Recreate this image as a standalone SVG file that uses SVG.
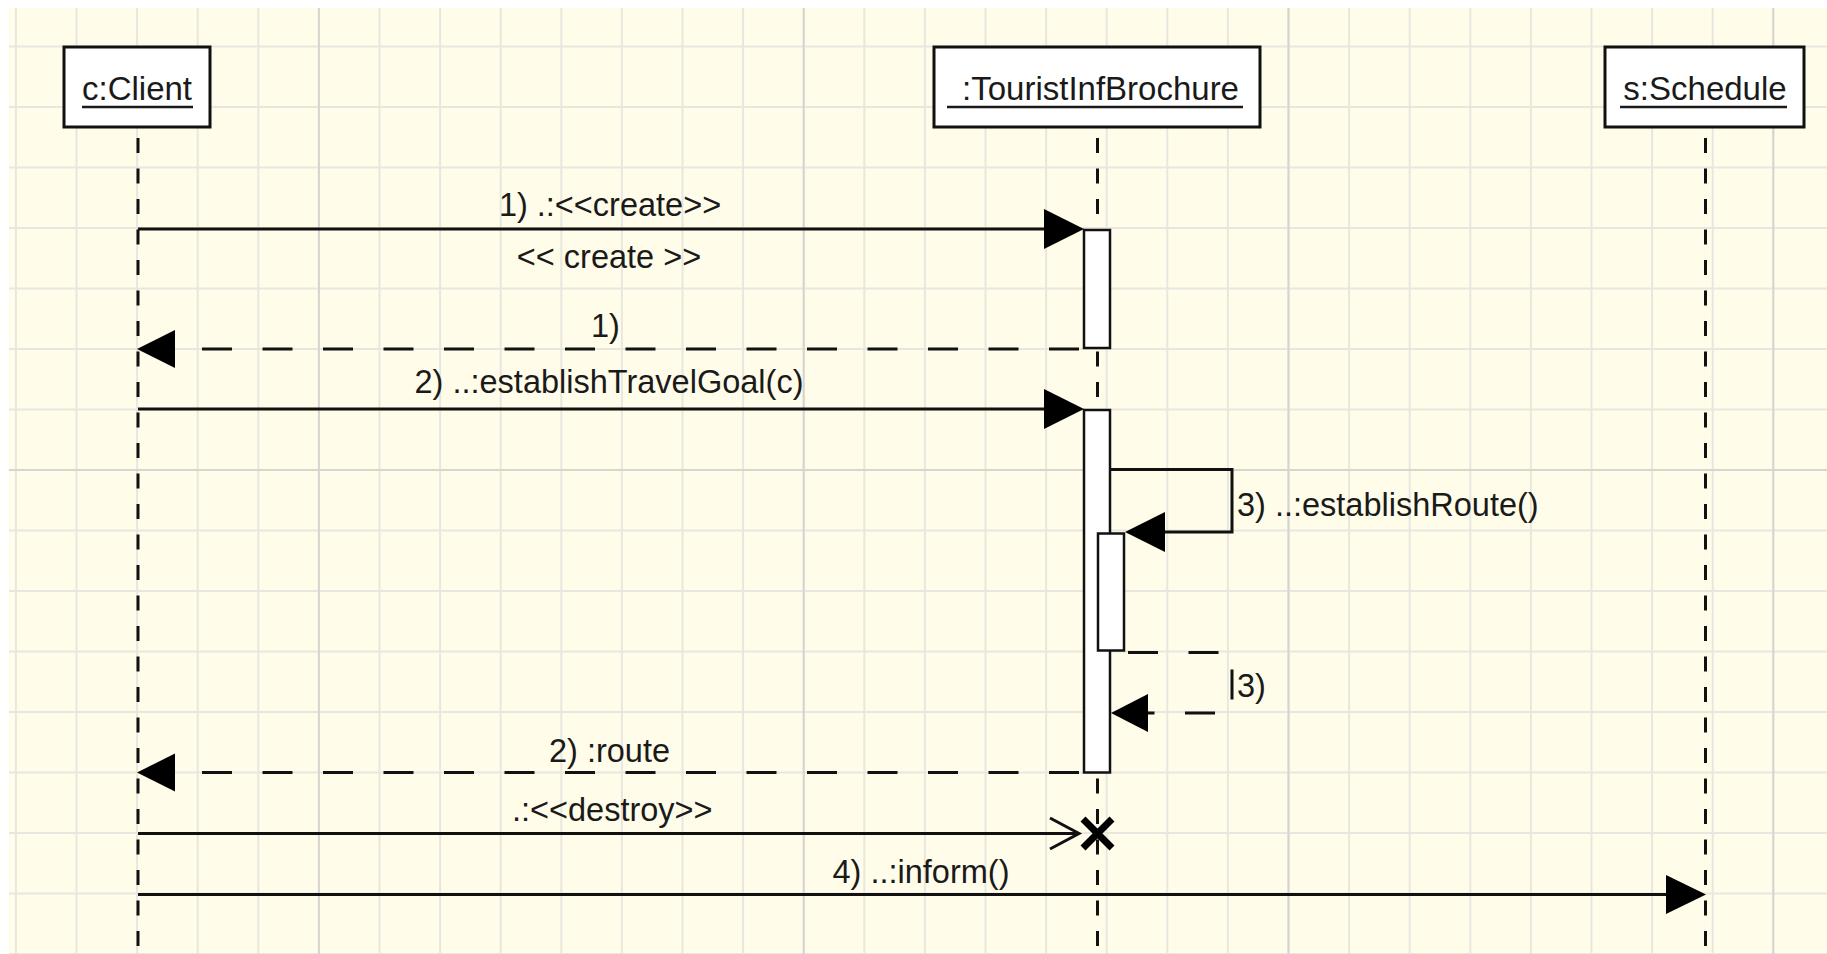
<svg xmlns="http://www.w3.org/2000/svg" width="1827" height="954" viewBox="0 0 1827 954">
<defs>
<style>
.box{fill:#fff;stroke:#111;stroke-width:3}
.name{font-family:"Liberation Sans",Arial,sans-serif;font-size:33px;fill:#1a1a1a;text-anchor:middle}
.ul{stroke:#1a1a1a;stroke-width:2.5}
.life{stroke:#111;stroke-width:3;stroke-dasharray:15 15.5;fill:none}
.act{fill:#fff;stroke:#111;stroke-width:2.5}
.msg{stroke:#111;stroke-width:3;fill:none}
.ret{stroke:#111;stroke-width:3;fill:none;stroke-dasharray:30 30.5;stroke-dashoffset:55.5}
.head{fill:#000}
.open{fill:none;stroke:#111;stroke-width:3}
.lbl{font-family:"Liberation Sans",Arial,sans-serif;font-size:32.5px;fill:#1a1a1a}
.mid{text-anchor:middle}
.g{stroke:#E8E7DF;stroke-width:2}
.gd{stroke:#D6D5CF;stroke-width:2}
</style>
<pattern id="grid" x="14.9" y="45.5" width="60.6" height="60.5" patternUnits="userSpaceOnUse">
<path d="M1,0 V60.5 M0,1 H60.6" class="g"/>
</pattern>
</defs>
<g id="background">
<rect width="1827" height="954" fill="#fff"/>
<rect x="9" y="8" width="1818" height="946" fill="#FFFDE9"/>
<rect x="9" y="8" width="1818" height="946" fill="url(#grid)"/>
<path class="gd" d="M318.9,8 V954 M803.7,8 V954 M1288.5,8 V954 M1773.3,8 V954 M9,470 H1827"/>
</g>
<g id="node-client">
<path class="life" d="M138,138 V950"/>
<rect class="box" x="64" y="47" width="146" height="80"/>
<text class="name" x="137" y="100">c:Client</text>
<line class="ul" x1="82" y1="107" x2="193" y2="107"/>
</g>
<g id="node-tourist">
<path class="life" d="M1097.5,138 V950"/>
<rect class="box" x="934" y="47" width="326" height="80"/>
<text class="name" x="1100.5" y="100">:TouristInfBrochure</text>
<line class="ul" x1="947" y1="107" x2="1243" y2="107"/>
<rect class="act" x="1084" y="230" width="26" height="118"/>
<rect class="act" x="1084" y="410" width="26" height="362.5"/>
<rect class="act" x="1098" y="533.5" width="26" height="117"/>
</g>
<g id="node-schedule">
<path class="life" d="M1705.5,138 V950"/>
<rect class="box" x="1605" y="47" width="199" height="80"/>
<text class="name" x="1705" y="100">s:Schedule</text>
<line class="ul" x1="1620" y1="107" x2="1787" y2="107"/>
</g>
<g id="connectors">
<path class="msg" d="M138,229 H1050"/>
<polygon class="head" points="1084,229 1044,209 1044,249"/>
<text class="lbl mid" x="610" y="216">1) .:&lt;&lt;create&gt;&gt;</text>
<text class="lbl mid" x="609" y="268">&lt;&lt; create &gt;&gt;</text>

<path class="ret" d="M1084,349 H172"/>
<polygon class="head" points="137,349 175,330 175,368"/>
<text class="lbl" x="591" y="337">1)</text>

<path class="msg" d="M138,409 H1050"/>
<polygon class="head" points="1084,409 1044,389 1044,429"/>
<text class="lbl mid" x="609" y="393">2) ..:establishTravelGoal(c)</text>

<path class="msg" d="M1110,469.5 H1232 V532 H1160"/>
<polygon class="head" points="1125,532 1165,512 1165,552"/>
<text class="lbl" x="1237" y="516">3) ..:establishRoute()</text>

<path class="ret" style="stroke-dashoffset:56.5" d="M1124,652.5 H1232 V713 H1140"/>
<polygon class="head" points="1111,713 1148,694 1148,732"/>
<text class="lbl" x="1237" y="697">3)</text>

<path class="ret" d="M1084,772.5 H172"/>
<polygon class="head" points="137,772.5 175,753.5 175,791.5"/>
<text class="lbl" x="549" y="762">2) :route</text>

<path class="msg" d="M138,833.5 H1078"/>
<polyline class="open" points="1050,818 1079,833.5 1050,849"/>
<text class="lbl" x="512" y="821">.:&lt;&lt;destroy&gt;&gt;</text>
<path d="M1083,819 L1112,848 M1112,819 L1083,848" stroke="#000" stroke-width="7" fill="none"/>

<path class="msg" d="M138,894.5 H1670"/>
<polygon class="head" points="1706,894.5 1666,875 1666,914"/>
<text class="lbl mid" x="921" y="883">4) ..:inform()</text>
</g>
</svg>
